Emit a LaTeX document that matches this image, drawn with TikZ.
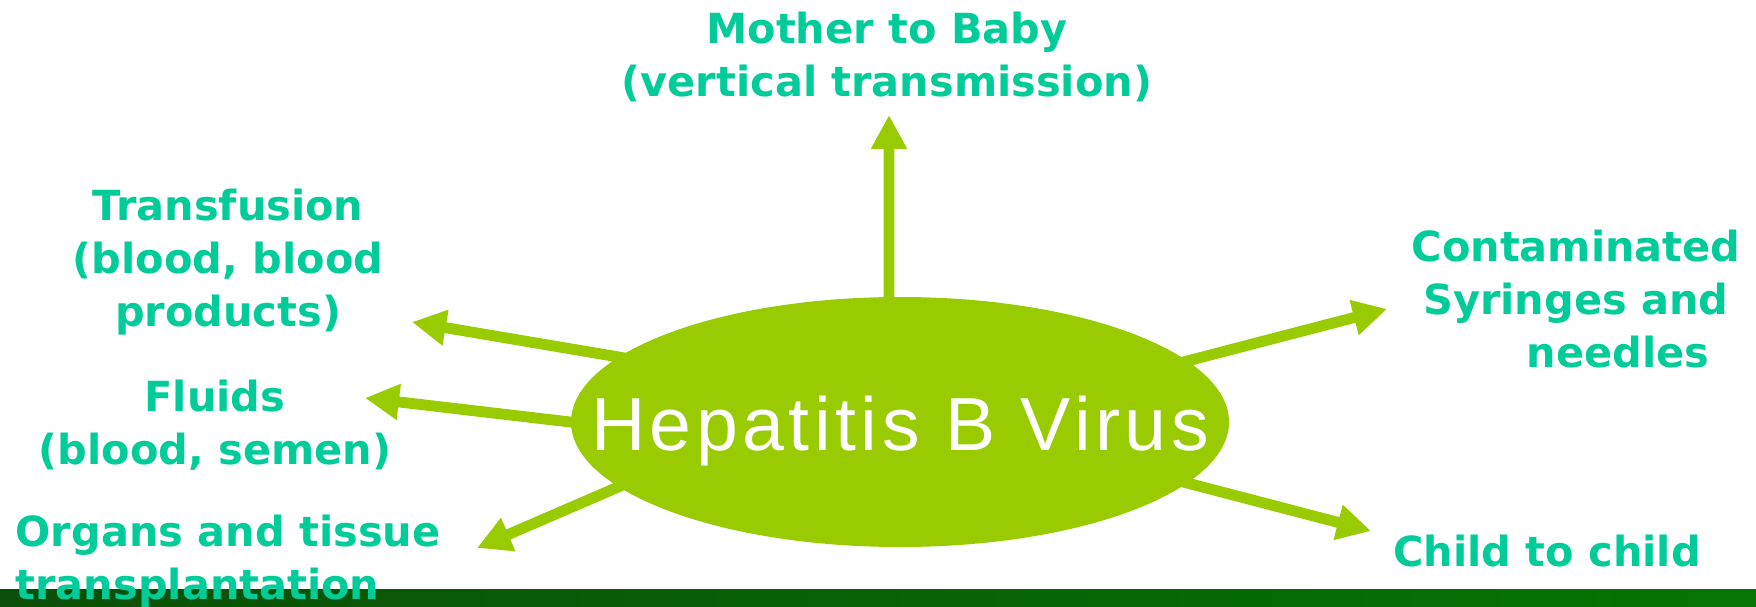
\documentclass[tikz,border=0pt]{standalone}
\usepackage{fontspec}
\setmainfont{DejaVu Sans}
\newfontfamily\virusfont[LetterSpace=6]{Liberation Sans}
\usepackage{xcolor}
\usetikzlibrary{arrows.meta, positioning, shapes}

\definecolor{hbvgreen}{HTML}{99CC00}
\definecolor{routeteal}{HTML}{00CC99}
\definecolor{bandleft}{HTML}{0A4F08}
\definecolor{bandright}{HTML}{047503}

\begin{document}
\begin{tikzpicture}[
  route/.style={text=routeteal, font=\bfseries\fontsize{11.8}{15.1}\selectfont, align=center, inner sep=0pt},
  spread/.style={draw=hbvgreen, line width=3.1pt, -{Triangle[length=0.34cm, width=0.34cm]}, shorten <=-4pt},
]

\useasboundingbox (0,0) rectangle (17.56,6.06);

% Bottom band
\shade[left color=bandleft, right color=bandright] (0,0) rectangle (17.56,0.17);

% Virus in the middle
\node[ellipse, fill=hbvgreen, minimum width=6.58cm, minimum height=2.5cm, inner sep=0pt,
  label={[text=white, yshift=-0.09cm, font=\virusfont\fontsize{21.4}{25}\selectfont]center:Hepatitis B Virus}]
  (hbv) at (9.00,1.84) {};

% Routes of transmission
\node[route] (mother) at (8.87,5.49) {Mother to Baby\\(vertical transmission)};
\node[route] (transfusion) at (2.28,3.44) {Transfusion\\(blood, blood\\products)};
\node[route] (fluids) at (2.15,1.81) {Fluids\\(blood, semen)};
\node[route, anchor=west, align=left] (organs) at (0.15,0.445) {Organs and tissue\\transplantation};
\node[route] (syringes) at (15.76,3.07) {Contaminated\\Syringes and\\\hspace{0.84cm}needles};
\node[route] (child) at (15.47,0.55) {Child to child};

% Arrow tips
\coordinate (tipMother) at (8.89,4.91);
\coordinate (tipTransfusion) at (4.12,2.84);
\coordinate (tipFluids) at (3.65,2.08);
\coordinate (tipOrgans) at (4.77,0.58);
\coordinate (tipSyringes) at (13.87,2.97);
\coordinate (tipChild) at (13.71,0.75);

% Arrows
\draw[spread] (hbv.95) -- (tipMother);
\draw[spread] (hbv.167) -- (tipTransfusion);
\draw[spread] (hbv.180) -- (tipFluids);
\draw[spread] (hbv.193) -- (tipOrgans);
\draw[spread] (hbv.12) -- (tipSyringes);
\draw[spread] (hbv.348) -- (tipChild);

\end{tikzpicture}
\end{document}
